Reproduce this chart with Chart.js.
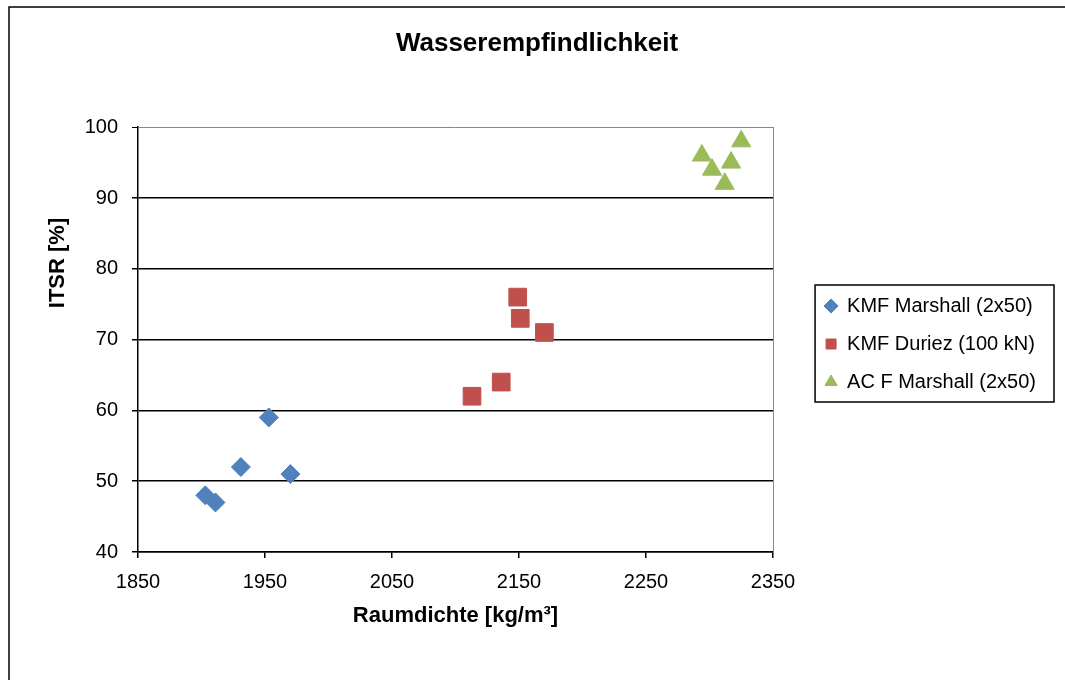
<!DOCTYPE html>
<html>
<head>
<meta charset="utf-8">
<script src="https://cdn.jsdelivr.net/npm/chart.js@4"></script>
<style>
  html, body { margin: 0; padding: 0; background: #fff; }
  #wrap { width: 1065px; height: 680px; }
</style>
</head>
<body>
<div id="wrap"><canvas id="grafico"></canvas></div>
<script>
const FONT = "'Liberation Sans', Arial, Helvetica, sans-serif";

// Raumdichte [kg/m³] (x) und ITSR [%] (y) je Serie
const marshallX = [1903, 1911, 1931, 1953, 1970];
const marshallY = [48, 47, 52, 59, 51];
const duriezX = [2113, 2136, 2149, 2151, 2170];
const duriezY = [62, 64, 76, 73, 71];
const acX = [2294, 2302, 2312, 2317, 2325];
const acY = [96, 94, 92, 95, 98];
const serien = ["KMF Marshall (2x50)", "KMF Duriez (100 kN)", "AC F Marshall (2x50)"];
const xTicks = [1850, 1950, 2050, 2150, 2250, 2350];
const yTicks = [40, 50, 60, 70, 80, 90, 100];

const PLOT_RIGHT = 773;   // rechter Rand der Zeichenfläche
const PAD_RIGHT = 19;

function punkte(xs, ys) {
  return xs.map((x, i) => ({ x: x, y: ys[i] }));
}

// Rahmen aussen, Legendenrahmen, y-Achsentitel
const rahmen = {
  id: 'rahmen',
  afterDraw(chart) {
    const ctx = chart.ctx;
    ctx.save();
    ctx.strokeStyle = '#000';
    ctx.lineWidth = 1.5;
    ctx.strokeRect(9, 7, chart.width + 20, chart.height + 20);

    const hb = chart.legend.legendHitBoxes;
    if (hb && hb.length) {
      const x0 = hb[0].left - 10;
      const y0 = hb[0].top - 11;
      const x1 = Math.max(...hb.map(h => h.left + h.width)) + 18;
      const last = hb[hb.length - 1];
      const y1 = last.top + last.height + 10;
      ctx.lineWidth = 1.5;
      ctx.strokeRect(x0, y0, x1 - x0, y1 - y0);
    }

    ctx.translate(58, 263);
    ctx.rotate(-Math.PI / 2);
    ctx.fillStyle = '#000';
    ctx.font = 'bold 22px ' + FONT;
    ctx.textAlign = 'center';
    ctx.textBaseline = 'middle';
    ctx.fillText('ITSR [%]', 0, 0);
    ctx.restore();
  }
};

new Chart(document.getElementById('grafico'), {
  type: 'scatter',
  data: {
    datasets: [
      {
        label: serien[0],
        data: punkte(marshallX, marshallY),
        backgroundColor: '#4F81BD',
        borderColor: '#4F81BD',
        borderWidth: 1,
        pointStyle: 'rectRot',
        pointRadius: 9.5
      },
      {
        label: serien[1],
        data: punkte(duriezX, duriezY),
        backgroundColor: '#C0504D',
        borderColor: '#C0504D',
        borderWidth: 1,
        pointStyle: 'rect',
        pointRadius: 12.5
      },
      {
        label: serien[2],
        data: punkte(acX, acY),
        backgroundColor: '#9BBB59',
        borderColor: '#9BBB59',
        borderWidth: 1,
        pointStyle: 'triangle',
        pointRadius: 11
      }
    ]
  },
  options: {
    responsive: true,
    maintainAspectRatio: false,
    animation: false,
    layout: { padding: { left: 28, right: PAD_RIGHT, top: 28, bottom: 20 } },
    plugins: {
      title: {
        display: true,
        text: 'Wasserempfindlichkeit',
        color: '#000',
        font: { family: FONT, size: 26, weight: 'bold' },
        padding: { top: 0, bottom: 68 }
      },
      legend: {
        position: 'right',
        maxWidth: 300,
        labels: {
          usePointStyle: true,
          boxWidth: 12,
          boxHeight: 10,
          padding: 18,
          color: '#000',
          font: { family: FONT, size: 20 }
        }
      },
      tooltip: { enabled: false }
    },
    scales: {
      x: {
        type: 'linear',
        position: 'bottom',
        min: xTicks[0],
        max: xTicks[xTicks.length - 1],
        ticks: {
          stepSize: xTicks[1] - xTicks[0],
          padding: 12,
          color: '#000',
          font: { family: FONT, size: 20 },
          callback: v => String(v)
        },
        grid: { drawOnChartArea: false, drawTicks: true, tickLength: 6, color: '#000', lineWidth: 1.5 },
        border: { color: '#000', width: 1.5 },
        title: {
          display: true,
          text: 'Raumdichte [kg/m³]',
          color: '#000',
          font: { family: FONT, size: 22, weight: 'bold' },
          padding: { top: 0, bottom: 31 }
        },
        afterFit(scale) { scale.height = 108; }
      },
      y: {
        min: yTicks[0],
        max: yTicks[yTicks.length - 1],
        ticks: {
          stepSize: yTicks[1] - yTicks[0],
          padding: 14,
          color: '#000',
          font: { family: FONT, size: 20 },
          callback: v => String(v)
        },
        grid: {
          color: c => (c.tick && c.tick.value === yTicks[yTicks.length - 1]) ? '#888' : '#000',
          lineWidth: c => (c.tick && c.tick.value === yTicks[yTicks.length - 1]) ? 1 : 1.5,
          tickColor: '#000',
          tickLength: 6
        },
        border: { color: '#000', width: 1.5 },
        afterFit(scale) { scale.width = 110; }
      },
      y2: {
        position: 'right',
        min: yTicks[0],
        max: yTicks[yTicks.length - 1],
        ticks: { display: false },
        grid: { display: false },
        border: { display: true, color: '#888', width: 1 },
        afterFit(scale) {
          scale.width = scale.chart.width - PAD_RIGHT - scale.chart.legend.width - PLOT_RIGHT;
        }
      }
    }
  },
  plugins: [rahmen]
});
</script>
</body>
</html>
